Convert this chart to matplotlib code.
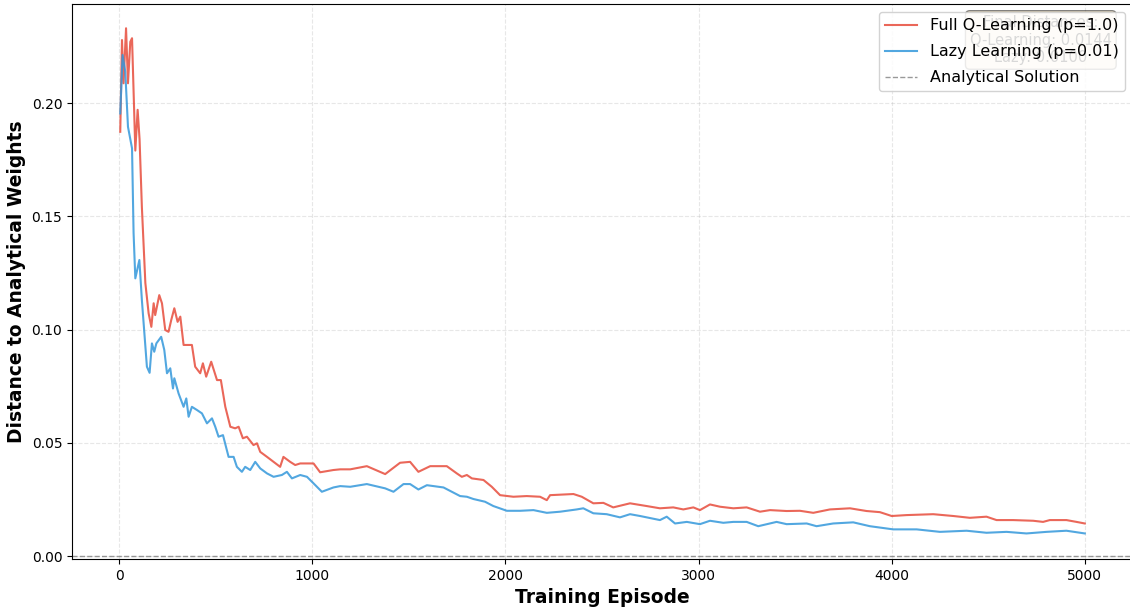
import matplotlib
matplotlib.use('Agg')
import matplotlib.pyplot as plt

# distance curves (episode, distance)
q_episodes = [5, 14, 22, 35, 45, 57, 66, 83, 95, 105, 117, 135, 152, 166, 178, 186, 207, 221,
              238, 255, 269, 285, 302, 316, 333, 376, 393, 419, 433, 450, 476, 506, 526, 549,
              575, 600, 618, 640, 661, 695, 713, 730, 765, 799, 833, 850, 885, 911, 937, 1006,
              1040, 1109, 1144, 1196, 1282, 1377, 1454, 1506, 1549, 1610, 1696, 1748, 1774, 1800,
              1826, 1886, 1929, 1972, 2041, 2110, 2179, 2214, 2231, 2352, 2395, 2455, 2507, 2558,
              2645, 2731, 2800, 2869, 2921, 2973, 3007, 3059, 3111, 3180, 3249, 3318, 3370, 3456,
              3525, 3594, 3680, 3784, 3870, 3939, 4000, 4077, 4215, 4319, 4405, 4491, 4543, 4629,
              4733, 4784, 4819, 4905, 4957, 5000]
q_dist = [0.1873, 0.2278, 0.2087, 0.2330, 0.2087, 0.2270, 0.2286, 0.1790, 0.1970, 0.1840, 0.1540,
          0.1205, 0.1071, 0.1012, 0.1116, 0.1064, 0.1152, 0.1116, 0.0998, 0.0990, 0.1042, 0.1094,
          0.1034, 0.1057, 0.0932, 0.0932, 0.0836, 0.0807, 0.0851, 0.0792, 0.0858, 0.0777, 0.0777,
          0.0659, 0.0571, 0.0564, 0.0571, 0.0520, 0.0527, 0.0490, 0.0498, 0.0460, 0.0438, 0.0416,
          0.0394, 0.0438, 0.0416, 0.0402, 0.0409, 0.0409, 0.0370, 0.0380, 0.0383, 0.0383, 0.0397,
          0.0362, 0.0412, 0.0416, 0.0372, 0.0397, 0.0397, 0.0365, 0.0350, 0.0358, 0.0343, 0.0336,
          0.0306, 0.0269, 0.0262, 0.0265, 0.0262, 0.0247, 0.0269, 0.0274, 0.0262, 0.0233, 0.0235,
          0.0215, 0.0233, 0.0221, 0.0211, 0.0215, 0.0206, 0.0215, 0.0203, 0.0228, 0.0218, 0.0211,
          0.0215, 0.0196, 0.0203, 0.0199, 0.0200, 0.0191, 0.0206, 0.0211, 0.0199, 0.0194, 0.0177,
          0.0181, 0.0185, 0.0177, 0.0169, 0.0174, 0.0159, 0.0159, 0.0156, 0.0151, 0.0159, 0.0159,
          0.0151, 0.0144]

lazy_episodes = [5, 17, 31, 45, 66, 74, 83, 104, 117, 143, 157, 169, 181, 192, 217, 233, 247, 264,
                 278, 285, 307, 333, 347, 359, 376, 402, 428, 454, 480, 497, 514, 537, 566, 592,
                 609, 635, 652, 678, 704, 730, 765, 799, 842, 868, 894, 937, 972, 1006, 1049, 1109,
                 1144, 1196, 1282, 1377, 1420, 1472, 1506, 1549, 1593, 1679, 1765, 1800, 1834, 1894,
                 1937, 2007, 2076, 2145, 2214, 2283, 2369, 2403, 2455, 2524, 2593, 2645, 2697, 2800,
                 2835, 2878, 2939, 3007, 3059, 3128, 3180, 3249, 3309, 3404, 3456, 3560, 3611, 3697,
                 3801, 3887, 4008, 4129, 4250, 4388, 4491, 4595, 4698, 4802, 4905, 5000]
lazy_dist = [0.1954, 0.2212, 0.2138, 0.1895, 0.1800, 0.1426, 0.1226, 0.1307, 0.1130, 0.0836, 0.0809,
             0.0939, 0.0902, 0.0939, 0.0968, 0.0910, 0.0807, 0.0829, 0.0740, 0.0785, 0.0718, 0.0659,
             0.0696, 0.0615, 0.0659, 0.0645, 0.0630, 0.0586, 0.0608, 0.0571, 0.0527, 0.0534, 0.0438,
             0.0438, 0.0394, 0.0372, 0.0394, 0.0380, 0.0416, 0.0387, 0.0365, 0.0350, 0.0358, 0.0372,
             0.0343, 0.0358, 0.0350, 0.0321, 0.0284, 0.0303, 0.0309, 0.0306, 0.0318, 0.0299, 0.0284,
             0.0318, 0.0318, 0.0294, 0.0313, 0.0303, 0.0265, 0.0262, 0.0252, 0.0240, 0.0221, 0.0200,
             0.0200, 0.0203, 0.0191, 0.0196, 0.0206, 0.0211, 0.0189, 0.0185, 0.0171, 0.0185, 0.0177,
             0.0159, 0.0174, 0.0144, 0.0151, 0.0141, 0.0156, 0.0147, 0.0151, 0.0151, 0.0132, 0.0151,
             0.0141, 0.0144, 0.0132, 0.0144, 0.0149, 0.0132, 0.0118, 0.0118, 0.0107, 0.0112, 0.0103,
             0.0107, 0.0100, 0.0107, 0.0112, 0.0100]

fig = plt.figure(figsize=(11.3, 6.07), dpi=100)
ax = fig.add_axes([0.0637, 0.079, 0.939, 0.9144])

ax.plot(q_episodes, q_dist, color='#e74c3c', linewidth=1.5, alpha=0.85, label='Full Q-Learning (p=1.0)')
ax.plot(lazy_episodes, lazy_dist, color='#3498db', linewidth=1.5, alpha=0.85, label='Lazy Learning (p=0.01)')
ax.axhline(0, color='gray', linestyle='--', linewidth=1, alpha=0.8, label='Analytical Solution')

ax.set_xlim(-245, 5250)
ax.set_ylim(-0.0013, 0.2437)
ax.set_xticks([0, 1000, 2000, 3000, 4000, 5000])
ax.set_yticks([0.0, 0.05, 0.10, 0.15, 0.20])
ax.set_xlabel('Training Episode', fontsize=13.4, fontweight='bold')
ax.set_ylabel('Distance to Analytical Weights', fontsize=13.4, fontweight='bold')
ax.grid(True, linestyle='--', alpha=0.3)

# summary box sits behind the legend, as in the original
ax.text(0.98, 0.98, f"Final Distances:\nQ-Learning: {q_dist[-1]:.4f}\nLazy: {lazy_dist[-1]:.4f}",
        transform=ax.transAxes, fontsize=10.5, va='top', ha='right', multialignment='center',
        bbox=dict(boxstyle='round', facecolor='wheat', alpha=0.5))
ax.legend(loc='upper right', fontsize=11.5, framealpha=0.85, labelspacing=0.68)

plt.savefig('out.png', dpi=100)
